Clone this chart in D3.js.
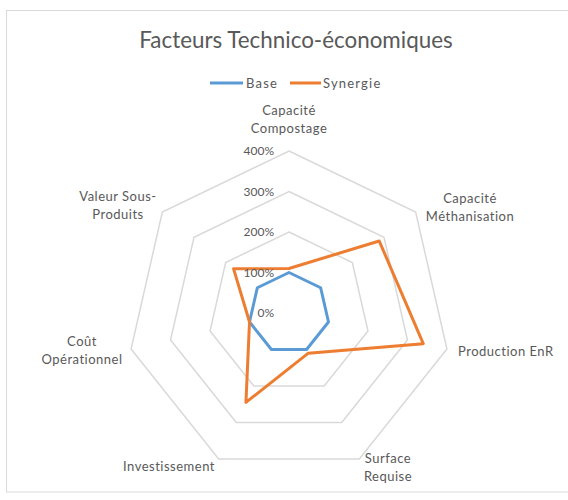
<!DOCTYPE html>
<html>
<head>
<meta charset="utf-8">
<script src="https://cdn.jsdelivr.net/npm/d3@7"></script>
<style>
  html, body { margin: 0; padding: 0; background: #fff; }
  svg { display: block; }
  text { font-family: Lato, "Open Sans", sans-serif; fill: #595959; }
</style>
</head>
<body>
<svg id="chart" width="568" height="500"></svg>
<script>
const categories = [
  ["Capacité", "Compostage"],
  ["Capacité", "Méthanisation"],
  ["Production EnR"],
  ["Surface", "Requise"],
  ["Investissement"],
  ["Coût", "Opérationnel"],
  ["Valeur Sous-", "Produits"]
];
const seriesNames = ["Base", "Synergie"];
const baseValues = [1, 1, 1, 1, 1, 1, 1];
const synergieValues = [1.10, 2.85, 3.40, 1.10, 2.45, 1.00, 1.75];
const tickValues = [0, 1, 2, 3, 4];
const tickLabels = ["0%", "100%", "200%", "300%", "400%"];
const colors = ["#5B9BD5", "#ED7D31"];

const svg = d3.select("#chart");
const cx = 289, cy = 313, R = 162;

// border
svg.append("rect").attr("x", 6.5).attr("y", 10.5).attr("width", 570).attr("height", 481.5)
  .attr("fill", "none").attr("stroke", "#d9d9d9").attr("stroke-width", 1);

// title
svg.append("text").attr("x", 296).attr("y", 48).attr("text-anchor", "middle")
  .style("font-size", "22.4px").text("Facteurs Technico-économiques");

const n = categories.length;
const angle = d3.scaleLinear().domain([0, n]).range([0, 2 * Math.PI]);
const r = d3.scaleLinear().domain([0, 4]).range([0, R]);
const pt = (i, v) => [cx + r(v) * Math.sin(angle(i)), cy - r(v) * Math.cos(angle(i))];

// grid rings
const ringLine = d3.line();
tickValues.filter(t => t > 0).forEach(t => {
  const pts = d3.range(n).map(i => pt(i, t));
  svg.append("path").attr("d", ringLine(pts) + "Z")
    .attr("fill", "none").attr("stroke", "#d9d9d9").attr("stroke-width", 1.5);
});

// series
const data = [baseValues, synergieValues];
data.forEach((vals, s) => {
  const pts = vals.map((v, i) => pt(i, v));
  svg.append("path").attr("d", d3.line()(pts) + "Z")
    .attr("fill", "none").attr("stroke", colors[s]).attr("stroke-width", 3)
    .attr("stroke-linejoin", "round");
});

// tick labels
tickValues.forEach((t, k) => {
  svg.append("text").attr("x", cx - 15).attr("y", cy - r(t) + 4)
    .attr("text-anchor", "end").style("font-size", "12px").text(tickLabels[k]);
});

// category labels
const labelPos = [
  { x: 289, y: 115, a: "middle" },
  { x: 470, y: 203, a: "middle" },
  { x: 458, y: 356, a: "start" },
  { x: 388, y: 463, a: "middle" },
  { x: 169, y: 471, a: "middle" },
  { x: 82, y: 346, a: "middle" },
  { x: 118, y: 201, a: "middle" }
];
categories.forEach((lines, i) => {
  const t = svg.append("text").attr("text-anchor", labelPos[i].a)
    .style("font-size", "13px").style("letter-spacing", "0.5px");
  lines.forEach((l, j) => {
    t.append("tspan").attr("x", labelPos[i].x).attr("y", labelPos[i].y + j * 18).text(l);
  });
});

// legend
const legendItems = [
  { x1: 210, x2: 243, tx: 246 },
  { x1: 290, x2: 321, tx: 323 }
];
seriesNames.forEach((name, s) => {
  const li = legendItems[s];
  svg.append("line").attr("x1", li.x1).attr("x2", li.x2).attr("y1", 83).attr("y2", 83)
    .attr("stroke", colors[s]).attr("stroke-width", 3);
  svg.append("text").attr("x", li.tx).attr("y", 87.5)
    .style("font-size", "13px").style("letter-spacing", "1.2px").text(name);
});
</script>
</body>
</html>
